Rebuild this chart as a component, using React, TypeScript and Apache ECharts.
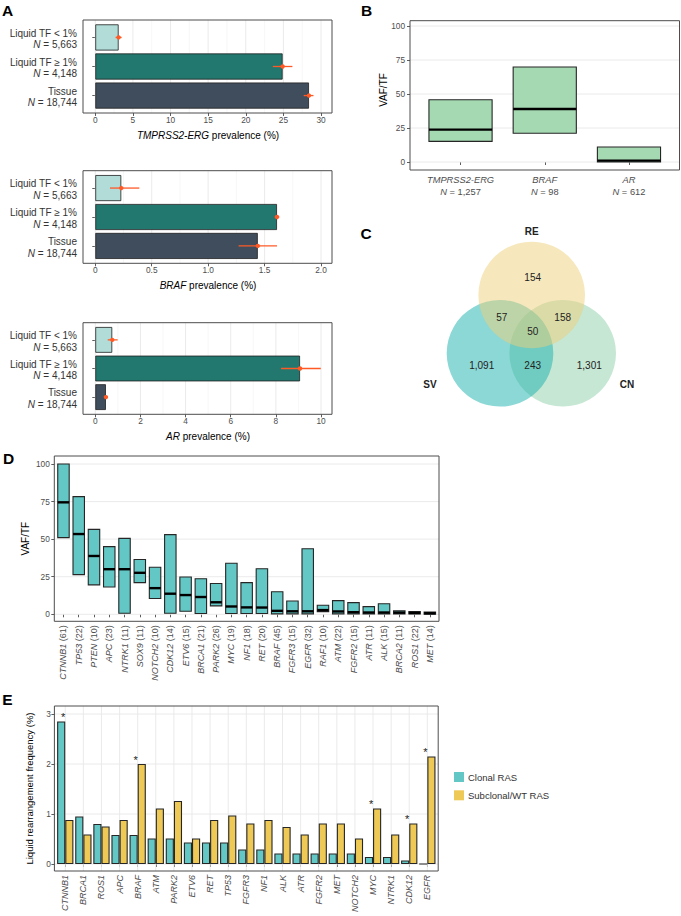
import React, { useEffect, useRef } from 'react';
import * as echarts from 'echarts';

const FONT = '"Liberation Sans", Arial, Helvetica, sans-serif';

// ---------------- Panel A data ----------------
const aGroups = ['Liquid TF < 1%', 'Liquid TF ≥ 1%', 'Tissue'];
const aN = ['5,663', '4,148', '18,744'];
const aGenes = ['TMPRSS2-ERG', 'BRAF', 'AR'];
const ermgPrev = [3.1, 24.9, 28.4];
const ermgLow = [2.7, 23.6, 27.7];
const ermgHigh = [3.5, 26.2, 29.0];
const brafPrev = [0.23, 1.61, 1.44];
const brafLow = [0.13, 1.59, 1.27];
const brafHigh = [0.39, 1.63, 1.61];
const arPrev = [0.75, 9.07, 0.47];
const arLow = [0.55, 8.23, 0.4];
const arHigh = [0.99, 9.99, 0.55];
const ermgTicks = [0, 5, 10, 15, 20, 25, 30];
const ermgMinor = [2.5, 7.5, 12.5, 17.5, 22.5, 27.5];
const brafTicks = [0, 0.5, 1, 1.5, 2];
const brafMinor = [0.25, 0.75, 1.25, 1.75];
const arTicks = [0, 2, 4, 6, 8, 10];
const arMinor = [1, 3, 5, 7, 9];

// ---------------- Panel B data ----------------
const bGenes = ['TMPRSS2-ERG', 'BRAF', 'AR'];
const bN = ['1,257', '98', '612'];
const bLow = [15.2, 21.1, 0];
const bMed = [23.8, 39.0, 1.0];
const bHigh = [45.8, 69.9, 11.0];
const vafTicks = [0, 25, 50, 75, 100];

// ---------------- Panel C data ----------------
const vennSets = ['RE', 'SV', 'CN'];
// RE only, RE∩SV, RE∩CN, all three, SV only, SV∩CN, CN only
const vennCounts = [154, 57, 158, 50, 1091, 243, 1301];

// ---------------- Panel D data ----------------
const dGenes = ['CTNNB1', 'TP53', 'PTEN', 'APC', 'NTRK1', 'SOX9', 'NOTCH2', 'CDK12', 'ETV6', 'BRCA1', 'PARK2', 'MYC', 'NF1', 'RET', 'BRAF', 'FGFR3', 'EGFR', 'RAF1', 'ATM', 'FGFR2', 'ATR', 'ALK', 'BRCA2', 'ROS1', 'MET'];
const dN = [61, 22, 10, 23, 11, 11, 10, 14, 15, 21, 26, 19, 18, 20, 45, 15, 32, 10, 22, 15, 11, 15, 11, 22, 14];
const dLow = [51, 26.4, 19.6, 18.2, 0.7, 21.1, 10.5, 0.7, 2.0, 0.5, 5.6, 0.5, 0.5, 0.5, 0.3, 0.3, 0.3, 1.8, 0.3, 0.3, 0.3, 0.3, 0.3, 0.2, 0];
const dMed = [74.5, 53.4, 38.8, 30, 30, 27.6, 17.4, 13.7, 12.8, 11.5, 8.0, 5.2, 4.6, 4.5, 2.3, 2.0, 2.0, 2.8, 1.9, 1.4, 1.2, 1.2, 1.1, 0.9, 0.7];
const dHigh = [100, 78.3, 56.5, 45, 50.5, 36.5, 31.3, 53, 24.8, 23.7, 20.5, 34.0, 21.1, 30.3, 15, 8.8, 43.6, 6, 9.1, 7.8, 5.1, 7.0, 2.3, 1.9, 1.5];

// ---------------- Panel E data ----------------
const eGenes = ['CTNNB1', 'BRCA1', 'ROS1', 'APC', 'BRAF', 'ATM', 'PARK2', 'ETV6', 'RET', 'TP53', 'FGFR3', 'NF1', 'ALK', 'ATR', 'FGFR2', 'MET', 'NOTCH2', 'MYC', 'NTRK1', 'CDK12', 'EGFR'];
const eClonal = [2.85, 0.95, 0.80, 0.58, 0.58, 0.51, 0.51, 0.43, 0.43, 0.43, 0.29, 0.29, 0.21, 0.21, 0.21, 0.21, 0.21, 0.14, 0.14, 0.07, 0];
const eSub = [0.88, 0.59, 0.75, 0.88, 2.0, 1.11, 1.26, 0.51, 0.88, 0.97, 0.81, 0.88, 0.74, 0.59, 0.81, 0.81, 0.51, 1.11, 0.59, 0.81, 2.15];
const eStars = ['CTNNB1', 'BRAF', 'MYC', 'CDK12', 'EGFR'];
const eTicks = [0, 1, 2, 3];
const eSeriesNames = ['Clonal RAS', 'Subclonal/WT RAS'];

// ---------------- Layout / style ----------------
type Panel = { x0: number; x1: number; y0: number; y1: number };
const PA: Panel[] = [
  { x0: 83, x1: 332, y0: 20, y1: 113 },
  { x0: 83, x1: 332, y0: 170.7, y1: 263.3 },
  { x0: 83, x1: 332, y0: 322.7, y1: 414.3 },
];
const AX0 = 95.3;
const AX1 = 321;
const PB: Panel = { x0: 410, x1: 679.5, y0: 20.7, y1: 170 };
const PB_Y = { top: 26, bottom: 162 };
const PD: Panel = { x0: 54.3, x1: 439, y0: 456, y1: 621.3 };
const PD_Y = { top: 464, bottom: 614.3 };
const PE: Panel = { x0: 54.4, x1: 438.2, y0: 706, y1: 871 };
const PE_Y = { top: 714, bottom: 864 };

const A_COLORS = ['#b1dcd8', '#22786f', '#404d5c'];
const ERR = '#ff5a26';
const GREEN = '#a4d9b2';
const TEAL = '#63c8c5';
const YELLOW = '#eec955';
const GRID = '#e8e8e8';
const GRID_MINOR = '#f2f2f2';
const BORDER = '#4d4d4d';
const TXT = '#4d4d4d';

const tickStyle = { show: true, length: 3, lineStyle: { color: '#333', width: 0.8 } };

function hLines(gi: number, ticks: number[], panel: Panel, color: string, width: number) {
  return {
    type: 'custom', xAxisIndex: gi, yAxisIndex: gi, z: 1, silent: true,
    data: ticks.map((t) => [0, t]), encode: { x: 0, y: 1 },
    renderItem: (_p: any, api: any) => {
      const c = api.coord([api.value(0), api.value(1)]);
      return { type: 'line', shape: { x1: panel.x0, y1: c[1], x2: panel.x1, y2: c[1] }, style: { stroke: color, lineWidth: width } };
    },
  };
}
function vLines(gi: number, xs: number[], panel: Panel, color: string, width: number) {
  return {
    type: 'custom', xAxisIndex: gi, yAxisIndex: gi, z: 1, silent: true,
    data: xs.map((x) => [x, 0]), encode: { x: 0, y: 1 },
    renderItem: (_p: any, api: any) => {
      const c = api.coord([api.value(0), api.value(1)]);
      return { type: 'line', shape: { x1: c[0], y1: panel.y0, x2: c[0], y2: panel.y1 }, style: { stroke: color, lineWidth: width } };
    },
  };
}
function crossbar(gi: number, lo: number[], med: number[], hi: number[], fill: string, frac: number) {
  return {
    type: 'custom', xAxisIndex: gi, yAxisIndex: gi, z: 3,
    data: lo.map((l, k) => [k, l, med[k], hi[k]]), encode: { x: 0, y: [1, 2, 3] },
    renderItem: (_p: any, api: any) => {
      const k = api.value(0);
      const pH = api.coord([k, api.value(3)]);
      const pL = api.coord([k, api.value(1)]);
      const pM = api.coord([k, api.value(2)]);
      const bw = api.size([1, 0])[0] * frac;
      const x = pH[0] - bw / 2;
      return {
        type: 'group',
        children: [
          { type: 'rect', shape: { x, y: pH[1], width: bw, height: Math.max(pL[1] - pH[1], 0.6) }, style: { fill, stroke: '#262626', lineWidth: 1.1 } },
          { type: 'line', shape: { x1: x, y1: pM[1], x2: x + bw, y2: pM[1] }, style: { stroke: '#000', lineWidth: 2.4 } },
        ],
      };
    },
  };
}

function text(x: number, y: number, t: string, o: any = {}) {
  return {
    type: 'text', x, y, z: 50, rotation: o.rotation || 0,
    style: {
      text: t, fontFamily: FONT, fontSize: o.fontSize || 10, fontWeight: o.fontWeight || 'normal',
      fill: o.fill || '#000', align: o.align || 'center', verticalAlign: 'middle',
      rich: {
        i: { fontStyle: 'italic', fontFamily: FONT, fontSize: o.fontSize || 10, fill: o.fill || '#000' },
      },
    },
  };
}
function border(p: Panel) {
  return { type: 'rect', z: 100, shape: { x: p.x0, y: p.y0, width: p.x1 - p.x0, height: p.y1 - p.y0 }, style: { fill: 'none', stroke: BORDER, lineWidth: 1 } };
}

function buildOption() {
  const grid: any[] = [];
  const xAxis: any[] = [];
  const yAxis: any[] = [];
  const series: any[] = [];
  const graphic: any[] = [];

  // ---------- Panel A ----------
  const aSets = [
    { prev: ermgPrev, lo: ermgLow, hi: ermgHigh, ticks: ermgTicks, minor: ermgMinor, fmt: (v: number) => String(v) },
    { prev: brafPrev, lo: brafLow, hi: brafHigh, ticks: brafTicks, minor: brafMinor, fmt: (v: number) => (v === 0 ? '0' : v.toFixed(1)) },
    { prev: arPrev, lo: arLow, hi: arHigh, ticks: arTicks, minor: arMinor, fmt: (v: number) => String(v) },
  ];
  aSets.forEach((s, i) => {
    const p = PA[i];
    const unit = (p.y1 - p.y0) / 3.2;
    grid.push({ left: AX0, top: p.y0 + 0.1 * unit, width: AX1 - AX0, height: 3 * unit, containLabel: false, outerBoundsMode: 'none' });
    xAxis.push({
      gridIndex: i, type: 'value', min: s.ticks[0], max: s.ticks[s.ticks.length - 1], interval: s.ticks[1] - s.ticks[0],
      offset: 0.1 * unit, axisLine: { show: false }, axisTick: tickStyle, splitLine: { show: false },
      axisLabel: { fontSize: 8.3, color: TXT, margin: 3, fontFamily: FONT, formatter: s.fmt },
    });
    yAxis.push({
      gridIndex: i, type: 'category', data: aGroups, inverse: true, offset: AX0 - p.x0,
      axisLine: { show: false }, axisTick: { ...tickStyle, alignWithLabel: true }, splitLine: { show: false },
      axisLabel: {
        fontSize: 10, color: '#333', margin: 6, lineHeight: 11.6, fontFamily: FONT, padding: [3, 0, 0, 0],
        formatter: (v: string, k: number) => `${v}\n{i|N} = ${aN[k]}`,
        rich: { i: { fontStyle: 'italic', fontSize: 10, color: '#333', lineHeight: 11.6, fontFamily: FONT } },
      },
    });
    series.push(vLines(i, s.minor, p, GRID_MINOR, 0.6));
    series.push(vLines(i, s.ticks, p, GRID, 0.9));
    series.push({
      type: 'bar', xAxisIndex: i, yAxisIndex: i, z: 3, barWidth: '90%',
      data: s.prev.map((v, k) => ({ value: v, itemStyle: { color: A_COLORS[k] } })),
      itemStyle: { borderColor: '#1f1f1f', borderWidth: 0.8 },
    });
    series.push({
      type: 'custom', xAxisIndex: i, yAxisIndex: i, z: 4,
      data: s.prev.map((v, k) => [v, k, s.lo[k], s.hi[k]]), encode: { x: [0, 2, 3], y: 1 },
      renderItem: (_p: any, api: any) => {
        const c = api.coord([api.value(0), api.value(1)]);
        const l = api.coord([api.value(2), api.value(1)]);
        const h = api.coord([api.value(3), api.value(1)]);
        return {
          type: 'group',
          children: [
            { type: 'line', shape: { x1: l[0], y1: c[1], x2: h[0], y2: c[1] }, style: { stroke: ERR, lineWidth: 1.3 } },
            { type: 'circle', shape: { cx: c[0], cy: c[1], r: 2.2 }, style: { fill: ERR } },
          ],
        };
      },
    });
    graphic.push(border(p));
    graphic.push(text((p.x0 + p.x1) / 2 + 0.5, p.y1 + 22.5, `{i|${aGenes[i]}} prevalence (%)`, { fontSize: 10 }));
  });

  // ---------- Panel B ----------
  {
    const gi = 3;
    const unit = (PB.x1 - PB.x0) / 3.2;
    grid.push({ left: PB.x0 + 0.1 * unit, width: 3 * unit, top: PB_Y.top, height: PB_Y.bottom - PB_Y.top, containLabel: false, outerBoundsMode: 'none' });
    xAxis.push({
      gridIndex: gi, type: 'category', data: bGenes, offset: PB.y1 - PB_Y.bottom,
      axisLine: { show: false }, axisTick: { ...tickStyle, alignWithLabel: true }, splitLine: { show: false },
      axisLabel: {
        fontSize: 9.3, color: TXT, margin: 4, lineHeight: 11.7, fontFamily: FONT, interval: 0,
        formatter: (v: string, k: number) => `{i|${v}}\n{i|N} = ${bN[k]}`,
        rich: { i: { fontStyle: 'italic', fontSize: 9.3, color: TXT, lineHeight: 11.7, fontFamily: FONT } },
      },
    });
    yAxis.push({
      gridIndex: gi, type: 'value', min: vafTicks[0], max: vafTicks[vafTicks.length - 1], interval: vafTicks[1] - vafTicks[0],
      offset: 0.1 * unit, axisLine: { show: false }, axisTick: tickStyle, splitLine: { show: false },
      axisLabel: { fontSize: 8.3, color: TXT, margin: 5, fontFamily: FONT },
    });
    series.push(hLines(gi, vafTicks, PB, GRID, 0.9));
    series.push(crossbar(gi, bLow, bMed, bHigh, GREEN, 0.75));
    graphic.push(border(PB));
    graphic.push(text(383, 90, 'VAF/TF', { fontSize: 10, rotation: Math.PI / 2 }));
  }

  // ---------- Panel D ----------
  {
    const gi = 4;
    const unit = (PD.x1 - PD.x0) / 25.2;
    grid.push({ left: PD.x0 + 0.1 * unit, width: 25 * unit, top: PD_Y.top, height: PD_Y.bottom - PD_Y.top, containLabel: false, outerBoundsMode: 'none' });
    xAxis.push({
      gridIndex: gi, type: 'category', data: dGenes, offset: PD.y1 - PD_Y.bottom,
      axisLine: { show: false }, axisTick: { ...tickStyle, alignWithLabel: true, interval: 0 }, splitLine: { show: false },
      axisLabel: {
        fontSize: 9, color: TXT, margin: 4, rotate: 90, interval: 0, fontFamily: FONT,
        formatter: (v: string, k: number) => `{i|${v}} (${dN[k]})`,
        rich: { i: { fontStyle: 'italic', fontSize: 9, color: TXT, fontFamily: FONT } },
      },
    });
    yAxis.push({
      gridIndex: gi, type: 'value', min: vafTicks[0], max: vafTicks[vafTicks.length - 1], interval: vafTicks[1] - vafTicks[0],
      offset: 0.1 * unit, axisLine: { show: false }, axisTick: tickStyle, splitLine: { show: false },
      axisLabel: { fontSize: 8.3, color: TXT, margin: 4.5, fontFamily: FONT },
    });
    series.push(hLines(gi, vafTicks, PD, GRID, 0.9));
    series.push(crossbar(gi, dLow, dMed, dHigh, TEAL, 0.75));
    graphic.push(border(PD));
    graphic.push(text(25, (PD.y0 + PD.y1) / 2, 'VAF/TF', { fontSize: 10, rotation: Math.PI / 2 }));
  }

  // ---------- Panel E ----------
  {
    const gi = 5;
    const unit = (PE.x1 - PE.x0) / 21.2;
    grid.push({ left: PE.x0 + 0.1 * unit, width: 21 * unit, top: PE_Y.top, height: PE_Y.bottom - PE_Y.top, containLabel: false, outerBoundsMode: 'none' });
    xAxis.push({
      gridIndex: gi, type: 'category', data: eGenes, offset: PE.y1 - PE_Y.bottom,
      axisLine: { show: false }, axisTick: { ...tickStyle, alignWithLabel: true, interval: 0 }, splitLine: { show: false },
      axisLabel: {
        fontSize: 9, color: TXT, margin: 4, rotate: 90, interval: 0, fontFamily: FONT,
        formatter: (v: string) => `{i|${v}}`,
        rich: { i: { fontStyle: 'italic', fontSize: 9, color: TXT, fontFamily: FONT } },
      },
    });
    yAxis.push({
      gridIndex: gi, type: 'value', min: eTicks[0], max: eTicks[eTicks.length - 1], interval: eTicks[1] - eTicks[0],
      offset: 0.1 * unit, axisLine: { show: false }, axisTick: tickStyle, splitLine: { show: false },
      axisLabel: { fontSize: 8.3, color: TXT, margin: 3.5, fontFamily: FONT },
    });
    series.push(hLines(gi, eTicks, PE, GRID, 0.9));
    series.push(vLines(gi, eGenes.map((_g, k) => k), PE, GRID, 0.9));
    const bw = unit * 0.45;
    series.push({
      type: 'bar', name: eSeriesNames[0], xAxisIndex: gi, yAxisIndex: gi, z: 3, barWidth: bw, barGap: '0%',
      data: eClonal, itemStyle: { color: TEAL, borderColor: '#262626', borderWidth: 1.1 },
    });
    series.push({
      type: 'bar', name: eSeriesNames[1], xAxisIndex: gi, yAxisIndex: gi, z: 3, barWidth: bw, barGap: '0%',
      data: eSub, itemStyle: { color: YELLOW, borderColor: '#262626', borderWidth: 1.1 },
    });
    series.push({
      type: 'custom', xAxisIndex: gi, yAxisIndex: gi, z: 5,
      data: eStars.map((g) => { const k = eGenes.indexOf(g); return [k, Math.max(eClonal[k], eSub[k])]; }),
      encode: { x: 0, y: 1 },
      renderItem: (_p: any, api: any) => {
        const c = api.coord([api.value(0), api.value(1)]);
        return { type: 'text', style: { text: '*', x: c[0] - 2, y: c[1] - 4.5, fontSize: 11, fontFamily: FONT, fill: '#222', align: 'center', verticalAlign: 'middle' } };
      },
    });
    graphic.push(border(PE));
    graphic.push(text(29, (PE.y0 + PE.y1) / 2, 'Liquid rearrangement frequency (%)', { fontSize: 9.5, rotation: Math.PI / 2 }));
    // legend
    [TEAL, YELLOW].forEach((c, k) => {
      const y = 772 + k * 18.3;
      graphic.push({ type: 'rect', z: 50, shape: { x: 454, y, width: 10, height: 10 }, style: { fill: c } });
      graphic.push(text(468, y + 5, eSeriesNames[k], { fontSize: 9.5, align: 'left', fill: '#333' }));
    });
  }

  // ---------- Panel C (Venn) ----------
  {
    const r = 53.3;
    const circles = [
      { name: vennSets[2], cx: 562.7, cy: 353.3, fill: 'rgba(141,207,168,0.5)' },
      { name: vennSets[1], cx: 500, cy: 353.3, fill: 'rgba(26,178,174,0.5)' },
      { name: vennSets[0], cx: 531.7, cy: 295, fill: 'rgba(238,208,122,0.5)' },
    ];
    circles.forEach((c) => graphic.push({ type: 'circle', z: 10, shape: { cx: c.cx, cy: c.cy, r }, style: { fill: c.fill } }));
    graphic.push(text(531.7, 231.5, vennSets[0], { fontSize: 10, fontWeight: 'bold', fill: '#222' }));
    graphic.push(text(430, 384, vennSets[1], { fontSize: 10, fontWeight: 'bold', fill: '#222' }));
    graphic.push(text(627, 384, vennSets[2], { fontSize: 10, fontWeight: 'bold', fill: '#222' }));
    const pos = [[532.7, 277.7], [501.7, 317.5], [562.7, 317.5], [532.7, 331.7], [481.7, 365.7], [532.7, 365.7], [589.3, 365.7]];
    vennCounts.forEach((n, k) => graphic.push(text(pos[k][0], pos[k][1], n.toLocaleString('en-US'), { fontSize: 10, fill: '#222' })));
  }

  // ---------- Panel letters ----------
  [['A', 7.5, 10], ['B', 366.5, 10], ['C', 366, 233.5], ['D', 8.5, 458], ['E', 7.5, 699.5]].forEach(([t, x, y]) =>
    graphic.push(text(x as number, y as number, t as string, { fontSize: 15.5, fontWeight: 'bold', fill: '#000' })),
  );

  return {
    animation: false,
    backgroundColor: '#ffffff',
    textStyle: { fontFamily: FONT },
    grid, xAxis, yAxis, series, graphic,
  };
}

export default function App() {
  const ref = useRef<HTMLDivElement>(null);
  useEffect(() => {
    document.body.style.margin = '0';
    const chart = echarts.init(ref.current as HTMLDivElement, null, { renderer: 'svg' });
    chart.setOption(buildOption() as any);
    return () => chart.dispose();
  }, []);
  return <div ref={ref} style={{ width: 681, height: 916 }} />;
}
